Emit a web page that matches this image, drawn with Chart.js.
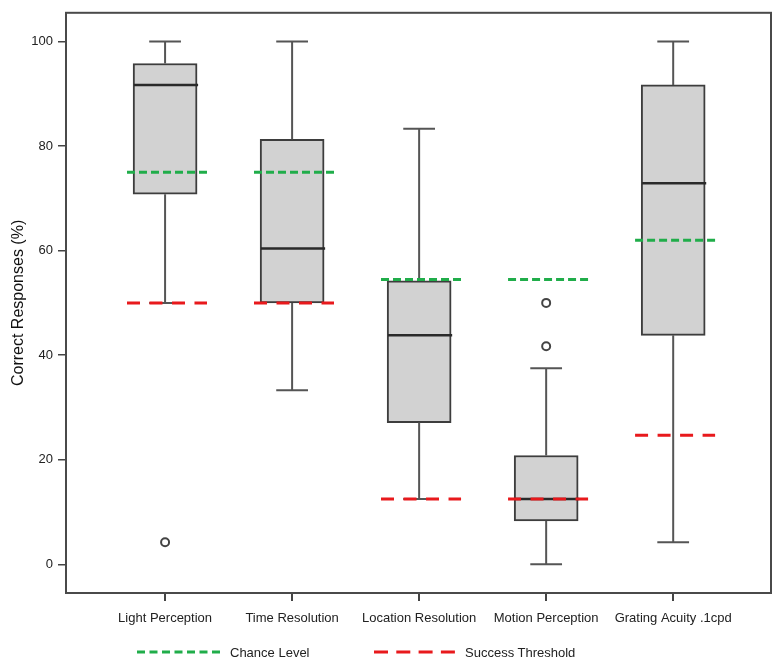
<!DOCTYPE html>
<html>
<head>
<meta charset="utf-8">
<script src="https://cdn.jsdelivr.net/npm/chart.js@4/dist/chart.umd.min.js"></script>
<style>
    html, body { margin: 0; padding: 0; background: #fff; }
    #wrap { position: relative; width: 781px; height: 664px; }
    #legend { position: absolute; top: 643px; left: 0; width: 781px; height: 18px;
              font: 13px "Liberation Sans", Arial, sans-serif; color: #222; }
    #legend .item { position: absolute; top: 0; display: flex; align-items: center; height: 18px; }
    #legend svg { margin-right: 10px; }
</style>
</head>
<body>
<div id="wrap">
    <canvas id="chart" width="781" height="664"></canvas>
    <div id="legend"></div>
</div>
<script>
const categories = ['Light Perception', 'Time Resolution', 'Location Resolution', 'Motion Perception', 'Grating Acuity .1cpd'];
const whiskerLow  = [50, 33.3, 12.5, 0, 4.2];
const quartile1   = [70.8, 50, 27.1, 8.3, 43.8];
const medians     = [91.7, 60.4, 43.8, 12.5, 72.9];
const quartile3   = [95.8, 81.3, 54.2, 20.8, 91.7];
const whiskerHigh = [100, 100, 83.3, 37.5, 100];
const outliers    = [[4.2], [], [], [50, 41.7], []];
const chanceLevel      = [75, 75, 54.5, 54.5, 62];
const successThreshold = [50, 50, 12.5, 12.5, 24.7];
const yTicks = [0, 20, 40, 60, 80, 100];

const GREEN = '#20ad4a';
const RED = '#e8191c';
const EDGE = '#3d3d3d';

// x positions 1..n on a linear axis
const xs = categories.map((c, i) => i + 1);

function hSegments(values, left, right) {
    const pts = [];
    values.forEach((v, i) => {
        pts.push({ x: xs[i] + left, y: v }, { x: xs[i] + right, y: v }, { x: xs[i], y: null });
    });
    return pts;
}

function whiskerLines() {
    const pts = [];
    xs.forEach((x, i) => {
        pts.push({ x, y: quartile3[i] }, { x, y: whiskerHigh[i] }, { x, y: null });
        pts.push({ x, y: quartile1[i] }, { x, y: whiskerLow[i] }, { x, y: null });
    });
    return pts;
}

const outlierPoints = [];
outliers.forEach((list, i) => list.forEach(v => outlierPoints.push({ x: xs[i], y: v })));

const frame = {
    id: 'frame',
    afterDatasetsDraw(chart) {
        const a = chart.chartArea;
        const ctx = chart.ctx;
        ctx.save();
        ctx.strokeStyle = '#4a4a4a';
        ctx.lineWidth = 2;
        ctx.strokeRect(a.left, a.top, a.right - a.left, a.bottom - a.top);
        ctx.restore();
    }
};

const font = { family: '"Liberation Sans", Arial, sans-serif', size: 13 };

new Chart(document.getElementById('chart'), {
    type: 'bar',
    plugins: [frame],
    data: {
        datasets: [
            { type: 'line', label: 'Chance Level', data: hSegments(chanceLevel, -0.3, 0.345),
              borderColor: GREEN, borderWidth: 3, borderDash: [8, 4], pointRadius: 0, spanGaps: false, order: 1 },
            { type: 'line', label: 'Success Threshold', data: hSegments(successThreshold, -0.3, 0.33),
              borderColor: RED, borderWidth: 3, borderDash: [13, 9.5], pointRadius: 0, spanGaps: false, order: 0 },
            { type: 'scatter', label: 'outliers', data: outlierPoints, pointRadius: 4,
              pointBackgroundColor: '#fff', pointBorderColor: '#444', pointBorderWidth: 2, order: 2 },
            { type: 'line', label: 'median', data: hSegments(medians, -0.245, 0.26),
              borderColor: '#2a2a2a', borderWidth: 2.5, pointRadius: 0, spanGaps: false, order: 3 },
            { type: 'line', label: 'caps',
              data: [...hSegments(whiskerHigh, -0.125, 0.125), ...hSegments(whiskerLow, -0.125, 0.125)],
              borderColor: '#555', borderWidth: 2, pointRadius: 0, spanGaps: false, order: 4 },
            { type: 'line', label: 'whiskers', data: whiskerLines(),
              borderColor: '#555', borderWidth: 2, pointRadius: 0, spanGaps: false, order: 5 },
            { type: 'bar', label: 'box', data: xs.map((x, i) => ({ x, y: [quartile1[i], quartile3[i]] })),
              backgroundColor: '#d2d2d2', borderColor: EDGE, borderWidth: 2, borderSkipped: false,
              barThickness: 64, order: 6 }
        ]
    },
    options: {
        responsive: false,
        animation: false,
        layout: { padding: { top: 11, right: 10, left: 0, bottom: 31 } },
        plugins: { legend: { display: false }, tooltip: { enabled: false } },
        scales: {
            x: {
                type: 'linear', min: 0.22, max: 5.77, offset: false,
                afterBuildTicks: axis => { axis.ticks = xs.map(v => ({ value: v })); },
                afterFit: axis => { axis.height = 40; },
                grid: { drawOnChartArea: false, drawTicks: true, tickLength: 8, color: '#444', lineWidth: 2, offset: false },
                border: { display: false },
                ticks: { padding: 10, color: '#222', font, maxRotation: 0, autoSkip: false,
                         callback: v => categories[v - 1] }
            },
            y: {
                min: -5.5, max: 105.5,
                afterBuildTicks: axis => { axis.ticks = yTicks.map(v => ({ value: v })); },
                afterFit: axis => { axis.width = 66; },
                grid: { drawOnChartArea: false, drawTicks: true, tickLength: 8, color: '#444', lineWidth: 1.5 },
                border: { display: false },
                ticks: { padding: 5, color: '#222', font },
                title: { display: true, text: 'Correct Responses (%)', color: '#111',
                         font: { family: font.family, size: 16 }, padding: { top: 9, bottom: 0 } }
            }
        }
    }
});

// legend below the x axis labels
const legendItems = [
    { text: 'Chance Level', color: GREEN, dash: '8 4.5', left: 137, width: 83 },
    { text: 'Success Threshold', color: RED, dash: '14 8.3', left: 374, width: 81 }
];
const legend = document.getElementById('legend');
legendItems.forEach(it => {
    const el = document.createElement('div');
    el.className = 'item';
    el.style.left = it.left + 'px';
    el.innerHTML = `<svg width="${it.width}" height="6"><line x1="0" y1="3" x2="${it.width}" y2="3" stroke="${it.color}" stroke-width="3" stroke-dasharray="${it.dash}"/></svg><span>${it.text}</span>`;
    legend.appendChild(el);
});
</script>
</body>
</html>
